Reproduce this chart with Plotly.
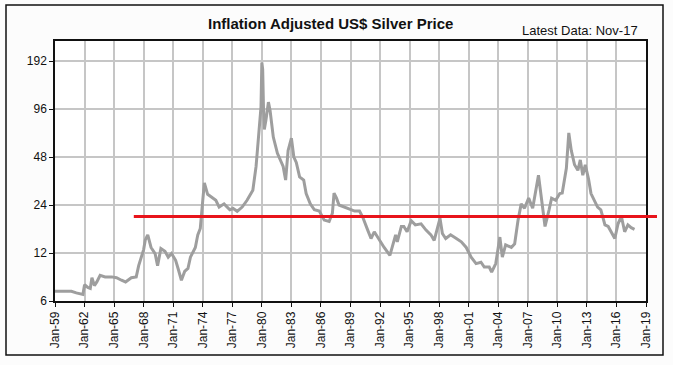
import math
import plotly.graph_objects as go

# ---- data ----
dates = [
    "1959-01", "1960-09", "1961-03", "1961-11", "1962-01", "1962-05", "1962-08", "1962-10",
    "1963-01", "1963-04", "1963-08", "1964-02", "1964-10", "1965-04", "1965-10", "1966-03",
    "1966-10", "1967-04", "1967-07", "1968-01", "1968-03", "1968-06", "1968-10", "1969-03",
    "1969-06", "1969-10", "1970-03", "1970-07", "1970-11", "1971-04", "1971-07", "1971-11",
    "1972-03", "1972-07", "1972-10", "1973-04", "1973-07", "1973-10", "1974-01", "1974-03",
    "1974-07", "1974-11", "1975-05", "1975-09", "1976-03", "1976-10", "1977-02", "1977-07",
    "1978-01", "1978-07", "1979-02", "1979-06", "1979-09", "1979-12", "1980-01", "1980-02",
    "1980-03", "1980-04", "1980-06", "1980-09", "1980-11", "1981-03", "1981-08", "1982-03",
    "1982-06", "1982-09", "1983-01", "1983-04", "1983-07", "1983-11", "1984-04", "1984-07",
    "1984-12", "1985-05", "1985-11", "1986-05", "1986-11", "1987-03", "1987-05", "1987-08",
    "1987-11", "1988-05", "1988-12", "1989-06", "1989-12", "1990-04", "1990-10", "1991-02",
    "1991-06", "1992-01", "1992-06", "1993-01", "1993-05", "1993-08", "1993-10", "1994-03",
    "1994-06", "1994-10", "1995-03", "1995-08", "1996-03", "1996-09", "1997-03", "1997-07",
    "1998-02", "1998-05", "1998-09", "1999-03", "1999-10", "2000-04", "2000-10", "2001-04",
    "2001-10", "2002-04", "2002-08", "2003-02", "2003-05", "2003-10", "2004-03", "2004-06",
    "2004-10", "2005-05", "2005-09", "2006-01", "2006-05", "2006-09", "2007-02", "2007-07",
    "2008-02", "2008-05", "2008-10", "2009-03", "2009-06", "2009-11", "2010-04", "2010-07",
    "2010-12", "2011-03", "2011-06", "2011-10", "2012-02", "2012-05", "2012-08", "2012-11",
    "2013-03", "2013-06", "2013-10", "2014-02", "2014-06", "2014-11", "2015-03", "2015-06",
    "2015-11", "2016-03", "2016-07", "2016-11", "2017-03", "2017-07", "2017-11",
]
prices = [
    6.9, 6.9, 6.75, 6.6, 7.6, 7.3, 7.2, 8.4,
    7.5, 7.9, 8.7, 8.5, 8.5, 8.4, 8.1, 7.9,
    8.4, 8.5, 10.0, 12.6, 14.5, 15.6, 13.0, 11.9,
    10.0, 12.8, 12.3, 11.3, 11.9, 10.8, 9.6, 8.1,
    9.2, 9.6, 11.3, 13.0, 15.6, 17.1, 25.7, 33.0,
    28.0, 27.0, 25.7, 23.3, 24.4, 22.4, 22.8, 21.9,
    23.3, 25.7, 29.7, 41.9, 61.5, 99.0, 188.0, 170.0,
    99.0, 71.5, 82.0, 106.0, 94.0, 64.0, 50.6, 41.9,
    34.4, 52.8, 63.0, 48.0, 44.4, 36.0, 34.4, 28.3,
    24.4, 22.4, 22.0, 19.3, 18.9, 21.3, 28.5, 26.5,
    24.0, 23.3, 22.4, 22.0, 22.0, 20.1, 16.7, 14.8,
    16.3, 14.1, 13.0, 11.6, 13.5, 15.6, 14.1, 17.6,
    17.6, 16.3, 19.1, 18.0, 18.3, 16.7, 15.6, 14.4,
    19.8, 15.9, 14.8, 15.6, 14.8, 14.1, 13.0, 11.3,
    10.3, 10.5, 9.8, 9.8, 9.1, 10.3, 15.1, 11.3,
    13.5, 13.0, 13.7, 19.1, 24.4, 22.9, 26.5, 22.9,
    36.9, 28.5, 17.6, 22.4, 26.5, 25.7, 28.3, 28.5,
    40.8, 68.0, 52.8, 42.9, 39.6, 46.0, 36.9, 42.9,
    35.0, 28.3, 25.7, 23.3, 22.4, 18.0, 17.6, 16.6,
    14.8, 18.3, 20.4, 16.3, 18.0, 17.3, 16.9,
]
y_ticks = [6, 12, 24, 48, 96, 192]
x_start_year = 1959
x_end_year = 2019
x_tick_years = list(range(x_start_year, x_end_year + 1, 3))
x_tick_labels = ["Jan-%02d" % (y % 100) for y in x_tick_years]
ref_level = 20.3
ref_start_year = 1967
title_text = "Inflation Adjusted US$ Silver Price"
note_text = "Latest Data: Nov-17"

# ---- figure ----
W, H = 673, 365
ML, MR, MT, MB = 55, 27, 41, 64

fig = go.Figure()
fig.add_trace(go.Scatter(
    x=[d + "-01" for d in dates], y=prices, mode="lines",
    line=dict(color="#9e9e9e", width=3), hoverinfo="skip", showlegend=False,
))

grid = "#c6c6c6"
fig.update_xaxes(
    type="date",
    range=["%d-01-01" % x_start_year, "%d-01-01" % x_end_year],
    tickmode="array",
    tickvals=["%d-01-01" % y for y in x_tick_years],
    ticktext=x_tick_labels,
    tickangle=-90,
    tickfont=dict(family="Liberation Sans, Arial", size=12, color="#111"),
    showgrid=True, gridcolor=grid, gridwidth=1.5,
    showline=True, linecolor="#111", linewidth=1.5, mirror=True,
    ticks="outside", ticklen=4, tickcolor="#111", zeroline=False,
)
fig.update_yaxes(
    type="log",
    range=[math.log10(6), math.log10(6 * 2 ** (260 / 48))],
    tickmode="array", tickvals=y_ticks, ticktext=[str(v) for v in y_ticks],
    tickfont=dict(family="Liberation Sans, Arial", size=12, color="#111"),
    showgrid=True, gridcolor=grid, gridwidth=1.5,
    showline=True, linecolor="#111", linewidth=1.5, mirror=True,
    ticks="outside", ticklen=4, tickcolor="#111", zeroline=False,
)

# red reference line (extends a little past the plot area on the right)
span = x_end_year - x_start_year
fig.add_shape(type="line", xref="paper", yref="y",
              x0=(ref_start_year - x_start_year) / span, x1=1.0186,
              y0=ref_level, y1=ref_level,
              line=dict(color="#e8141b", width=3), layer="above")

# outer frame
pw, ph = W - ML - MR, H - MT - MB
def px2x(px): return (px - ML) / pw
def py2y(py): return (H - MB - py) / ph
fig.add_shape(type="rect", xref="paper", yref="paper",
              x0=px2x(6), x1=px2x(663), y0=py2y(5), y1=py2y(355),
              line=dict(color="#111", width=1.5), fillcolor="rgba(0,0,0,0)", layer="below")

fig.add_annotation(text="<b>" + title_text + "</b>", xref="paper", yref="paper",
                   x=px2x(330), y=py2y(23), showarrow=False, xanchor="center", yanchor="middle",
                   font=dict(family="Liberation Sans, Arial", size=15, color="#111"))
fig.add_annotation(text=note_text, xref="paper", yref="paper",
                   x=px2x(640), y=py2y(31), showarrow=False, xanchor="right", yanchor="middle",
                   font=dict(family="Liberation Sans, Arial", size=13, color="#111"))

fig.update_layout(
    width=W, height=H,
    margin=dict(l=ML, r=MR, t=MT, b=MB, pad=0),
    paper_bgcolor="#fcfcfc", plot_bgcolor="#ffffff",
    showlegend=False,
)
fig.write_html("out.html", config={"displayModeBar": False},
               post_script="document.body.style.margin='0px';document.body.style.overflow='hidden';")
